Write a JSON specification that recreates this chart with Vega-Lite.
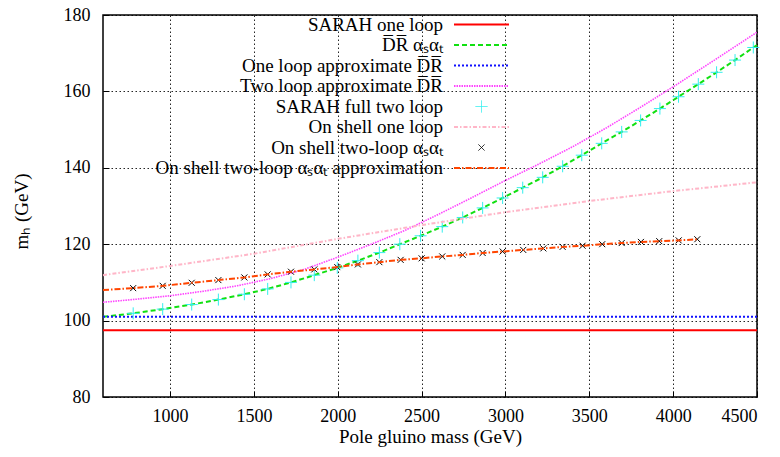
{
  "$schema": "https://vega.github.io/schema/vega-lite/v6.json",
  "width": 654,
  "height": 382,
  "autosize": {"type": "none"},
  "padding": {"left": 103, "top": 15, "right": 23, "bottom": 60},
  "background": "white",
  "config": {
    "font": "Liberation Serif",
    "view": {"stroke": "black", "strokeWidth": 1.5},
    "axis": {
      "domain": false,
      "grid": true,
      "gridColor": "black",
      "gridDash": [1.5, 2.5],
      "gridWidth": 1,
      "gridOpacity": 0.85,
      "tickColor": "black",
      "tickSize": -6,
      "tickWidth": 1,
      "labelFont": "Liberation Serif",
      "labelFontSize": 18,
      "labelColor": "black",
      "titleFont": "Liberation Serif",
      "titleFontSize": 19,
      "titleFontWeight": "normal",
      "titleColor": "black"
    }
  },
  "data": {
    "values": [
      {"s": "s1", "x": 600, "y": 97.5}, {"s": "s1", "x": 4500, "y": 97.5},
      {"s": "s3", "x": 600, "y": 101.0}, {"s": "s3", "x": 4500, "y": 101.0},
      {"s": "s2", "x": 600, "y": 101.0}, {"s": "s2", "x": 780, "y": 101.9}, {"s": "s2", "x": 956, "y": 103.0}, {"s": "s2", "x": 1129, "y": 104.2}, {"s": "s2", "x": 1288, "y": 105.5}, {"s": "s2", "x": 1443, "y": 106.9}, {"s": "s2", "x": 1582, "y": 108.3}, {"s": "s2", "x": 1721, "y": 110.0}, {"s": "s2", "x": 1860, "y": 111.9}, {"s": "s2", "x": 1997, "y": 113.8}, {"s": "s2", "x": 2120, "y": 115.7}, {"s": "s2", "x": 2248, "y": 117.8}, {"s": "s2", "x": 2370, "y": 120.0}, {"s": "s2", "x": 2494, "y": 122.2}, {"s": "s2", "x": 2623, "y": 124.6}, {"s": "s2", "x": 2745, "y": 127.0}, {"s": "s2", "x": 2864, "y": 129.5}, {"s": "s2", "x": 2983, "y": 132.1}, {"s": "s2", "x": 3103, "y": 134.8}, {"s": "s2", "x": 3222, "y": 137.5}, {"s": "s2", "x": 3341, "y": 140.4}, {"s": "s2", "x": 3455, "y": 143.3}, {"s": "s2", "x": 3574, "y": 146.4}, {"s": "s2", "x": 3693, "y": 149.4}, {"s": "s2", "x": 3806, "y": 152.4}, {"s": "s2", "x": 3921, "y": 155.5}, {"s": "s2", "x": 4032, "y": 158.6}, {"s": "s2", "x": 4150, "y": 161.9}, {"s": "s2", "x": 4259, "y": 165.0}, {"s": "s2", "x": 4369, "y": 168.2}, {"s": "s2", "x": 4478, "y": 171.5}, {"s": "s2", "x": 4500, "y": 172.1},
      {"s": "s4", "x": 600, "y": 104.8}, {"s": "s4", "x": 800, "y": 105.6}, {"s": "s4", "x": 1000, "y": 106.5}, {"s": "s4", "x": 1200, "y": 107.7}, {"s": "s4", "x": 1400, "y": 109.1}, {"s": "s4", "x": 1600, "y": 111.0}, {"s": "s4", "x": 1800, "y": 113.4}, {"s": "s4", "x": 2000, "y": 116.6}, {"s": "s4", "x": 2200, "y": 120.0}, {"s": "s4", "x": 2400, "y": 123.6}, {"s": "s4", "x": 2600, "y": 127.8}, {"s": "s4", "x": 2800, "y": 132.2}, {"s": "s4", "x": 3000, "y": 136.7}, {"s": "s4", "x": 3200, "y": 141.0}, {"s": "s4", "x": 3400, "y": 145.5}, {"s": "s4", "x": 3600, "y": 150.4}, {"s": "s4", "x": 3800, "y": 155.7}, {"s": "s4", "x": 4000, "y": 161.2}, {"s": "s4", "x": 4250, "y": 168.3}, {"s": "s4", "x": 4500, "y": 175.5},
      {"s": "s5", "x": 780, "y": 101.9}, {"s": "s5", "x": 956, "y": 103.0}, {"s": "s5", "x": 1129, "y": 104.2}, {"s": "s5", "x": 1288, "y": 105.5}, {"s": "s5", "x": 1443, "y": 106.9}, {"s": "s5", "x": 1582, "y": 108.3}, {"s": "s5", "x": 1721, "y": 110.0}, {"s": "s5", "x": 1860, "y": 111.9}, {"s": "s5", "x": 1997, "y": 113.8}, {"s": "s5", "x": 2120, "y": 115.7}, {"s": "s5", "x": 2248, "y": 117.8}, {"s": "s5", "x": 2370, "y": 120.0}, {"s": "s5", "x": 2494, "y": 122.2}, {"s": "s5", "x": 2623, "y": 124.6}, {"s": "s5", "x": 2745, "y": 127.0}, {"s": "s5", "x": 2864, "y": 129.5}, {"s": "s5", "x": 2983, "y": 132.1}, {"s": "s5", "x": 3103, "y": 134.8}, {"s": "s5", "x": 3222, "y": 137.5}, {"s": "s5", "x": 3341, "y": 140.4}, {"s": "s5", "x": 3455, "y": 143.3}, {"s": "s5", "x": 3574, "y": 146.4}, {"s": "s5", "x": 3693, "y": 149.4}, {"s": "s5", "x": 3806, "y": 152.4}, {"s": "s5", "x": 3921, "y": 155.5}, {"s": "s5", "x": 4032, "y": 158.6}, {"s": "s5", "x": 4150, "y": 161.9}, {"s": "s5", "x": 4259, "y": 165.0}, {"s": "s5", "x": 4369, "y": 168.2}, {"s": "s5", "x": 4478, "y": 171.5},
      {"s": "s6", "x": 600, "y": 111.9}, {"s": "s6", "x": 1000, "y": 114.3}, {"s": "s6", "x": 1500, "y": 117.5}, {"s": "s6", "x": 2000, "y": 121.4}, {"s": "s6", "x": 2500, "y": 125.0}, {"s": "s6", "x": 3000, "y": 128.4}, {"s": "s6", "x": 3500, "y": 131.3}, {"s": "s6", "x": 4000, "y": 133.9}, {"s": "s6", "x": 4500, "y": 136.2},
      {"s": "s7", "x": 780, "y": 108.5}, {"s": "s7", "x": 956, "y": 109.1}, {"s": "s7", "x": 1129, "y": 109.9}, {"s": "s7", "x": 1288, "y": 110.6}, {"s": "s7", "x": 1443, "y": 111.3}, {"s": "s7", "x": 1582, "y": 112.1}, {"s": "s7", "x": 1721, "y": 112.8}, {"s": "s7", "x": 1860, "y": 113.4}, {"s": "s7", "x": 1997, "y": 114.0}, {"s": "s7", "x": 2120, "y": 114.7}, {"s": "s7", "x": 2248, "y": 115.3}, {"s": "s7", "x": 2375, "y": 115.9}, {"s": "s7", "x": 2500, "y": 116.3}, {"s": "s7", "x": 2623, "y": 116.8}, {"s": "s7", "x": 2745, "y": 117.2}, {"s": "s7", "x": 2864, "y": 117.7}, {"s": "s7", "x": 2983, "y": 118.1}, {"s": "s7", "x": 3106, "y": 118.5}, {"s": "s7", "x": 3226, "y": 118.9}, {"s": "s7", "x": 3341, "y": 119.3}, {"s": "s7", "x": 3460, "y": 119.6}, {"s": "s7", "x": 3577, "y": 120.0}, {"s": "s7", "x": 3693, "y": 120.3}, {"s": "s7", "x": 3808, "y": 120.6}, {"s": "s7", "x": 3917, "y": 120.8}, {"s": "s7", "x": 4033, "y": 121.0}, {"s": "s7", "x": 4144, "y": 121.3},
      {"s": "s8", "x": 600, "y": 108.0}, {"s": "s8", "x": 780, "y": 108.5}, {"s": "s8", "x": 956, "y": 109.1}, {"s": "s8", "x": 1129, "y": 109.9}, {"s": "s8", "x": 1288, "y": 110.6}, {"s": "s8", "x": 1443, "y": 111.3}, {"s": "s8", "x": 1582, "y": 112.1}, {"s": "s8", "x": 1721, "y": 112.8}, {"s": "s8", "x": 1860, "y": 113.4}, {"s": "s8", "x": 1997, "y": 114.0}, {"s": "s8", "x": 2120, "y": 114.7}, {"s": "s8", "x": 2248, "y": 115.3}, {"s": "s8", "x": 2375, "y": 115.9}, {"s": "s8", "x": 2500, "y": 116.3}, {"s": "s8", "x": 2623, "y": 116.8}, {"s": "s8", "x": 2745, "y": 117.2}, {"s": "s8", "x": 2864, "y": 117.7}, {"s": "s8", "x": 2983, "y": 118.1}, {"s": "s8", "x": 3106, "y": 118.5}, {"s": "s8", "x": 3226, "y": 118.9}, {"s": "s8", "x": 3341, "y": 119.3}, {"s": "s8", "x": 3460, "y": 119.6}, {"s": "s8", "x": 3577, "y": 120.0}, {"s": "s8", "x": 3693, "y": 120.3}, {"s": "s8", "x": 3808, "y": 120.6}, {"s": "s8", "x": 3917, "y": 120.8}, {"s": "s8", "x": 4033, "y": 121.0}, {"s": "s8", "x": 4150, "y": 121.3}
    ]
  },
  "encoding": {
    "x": {
      "field": "x", "type": "quantitative",
      "scale": {"domain": [600, 4500], "nice": false, "zero": false},
      "axis": {
        "title": "Pole gluino mass (GeV)",
        "values": [1000, 1500, 2000, 2500, 3000, 3500, 4000, 4500],
        "format": "d",
        "labelPadding": 16,
        "titleY": 45,
        "titleBaseline": "alphabetic"
      }
    },
    "y": {
      "field": "y", "type": "quantitative",
      "scale": {"domain": [80, 180], "nice": false, "zero": false},
      "axis": {
        "title": "mₕ (GeV)",
        "values": [80, 100, 120, 140, 160, 180],
        "labelPadding": 19,
        "titleX": -76,
        "titleY": 196,
        "titleAngle": -90,
        "titleAlign": "center",
        "titleBaseline": "alphabetic"
      }
    },
    "color": {
      "field": "s", "type": "nominal",
      "scale": {
        "domain": ["s1", "s2", "s3", "s4", "s5", "s6", "s7", "s8"],
        "range": ["#ff0000", "#11e011", "#1010ff", "#ff44ff", "#33eeee", "#ffb6c8", "#000000", "#ff4500"]
      },
      "legend": {
        "orient": "none",
        "legendX": 369,
        "legendY": 0,
        "title": null,
        "padding": 0,
        "rowPadding": 0.5,
        "labelExpr": "{'s1':'SARAH one loop','s2':'D̅R̅ αₛαₜ','s3':'One loop approximate D̅R̅','s4':'Two loop approximate D̅R̅','s5':'SARAH full two loop','s6':'On shell one loop','s7':'On shell two-loop αₛαₜ','s8':'On shell two-loop αₛαₜ approximation'}[datum.value]",
        "labelAlign": "right",
        "labelOffset": -48,
        "labelLimit": 1000,
        "labelFont": "Liberation Serif",
        "labelFontSize": 19,
        "labelColor": "black",
        "symbolSize": 3025,
        "symbolStrokeWidth": 2,
        "encode": {
          "symbols": {
            "update": {
              "shape": {"signal": "datum.value==='s5' ? 'M-1,0L1,0M0,-1L0,1' : datum.value==='s7' ? 'M-1,-1L1,1M-1,1L1,-1' : 'stroke'"},
              "size": {"signal": "datum.value==='s5' ? 144 : datum.value==='s7' ? 36 : 3025"},
              "strokeDash": {"signal": "datum.value==='s2' ? [5,3] : datum.value==='s3' ? [2,2] : datum.value==='s4' ? [1.5,1] : datum.value==='s6' ? [4,2,1.5,2] : datum.value==='s8' ? [6,2,1.5,2] : [1,0]"},
              "strokeWidth": {"signal": "datum.value==='s5' || datum.value==='s7' ? 1 : 2"},
              "stroke": {"scale": "color", "field": "value"},
              "fill": {"value": "transparent"},
              "opacity": {"value": 1}
            }
          }
        }
      }
    }
  },
  "layer": [
    {"transform": [{"filter": "datum.s === 's1'"}], "mark": {"type": "line", "strokeWidth": 2}},
    {"transform": [{"filter": "datum.s === 's2'"}], "mark": {"type": "line", "strokeWidth": 2, "strokeDash": [5, 3]}},
    {"transform": [{"filter": "datum.s === 's3'"}], "mark": {"type": "line", "strokeWidth": 2, "strokeDash": [2, 2]}},
    {"transform": [{"filter": "datum.s === 's4'"}], "mark": {"type": "line", "strokeWidth": 1.6, "strokeDash": [1.5, 1]}},
    {"transform": [{"filter": "datum.s === 's5'"}], "mark": {"type": "point", "shape": "M-1,0L1,0M0,-1L0,1", "size": 144, "filled": false, "strokeWidth": 1, "opacity": 1}},
    {"transform": [{"filter": "datum.s === 's6'"}], "mark": {"type": "line", "strokeWidth": 2, "strokeDash": [4, 2, 1.5, 2]}},
    {"transform": [{"filter": "datum.s === 's7'"}], "mark": {"type": "point", "shape": "M-1,-1L1,1M-1,1L1,-1", "size": 36, "filled": false, "strokeWidth": 1, "opacity": 1}},
    {"transform": [{"filter": "datum.s === 's8'"}], "mark": {"type": "line", "strokeWidth": 2, "strokeDash": [6, 2, 1.5, 2]}}
  ]
}
